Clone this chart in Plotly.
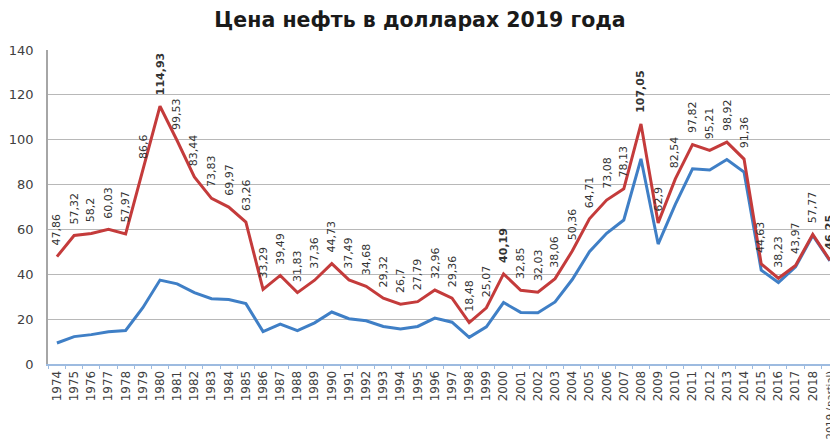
import plotly.graph_objects as go

years = [str(y) for y in range(1974, 2019)] + ["2019 (partial)"]
real_2019 = [47.86, 57.32, 58.2, 60.03, 57.97, 86.6, 114.93, 99.53, 83.44, 73.83,
             69.97, 63.26, 33.29, 39.49, 31.83, 37.36, 44.73, 37.49, 34.68, 29.32,
             26.7, 27.79, 32.96, 29.36, 18.48, 25.07, 40.19, 32.85, 32.03, 38.06,
             50.36, 64.71, 73.08, 78.13, 107.05, 62.9, 82.54, 97.82, 95.21, 98.92,
             91.36, 44.63, 38.23, 43.97, 57.77, 46.25]
nominal = [9.35, 12.21, 13.10, 14.40, 14.95, 25.10, 37.42, 35.75, 31.83, 29.08,
           28.75, 26.92, 14.44, 17.75, 14.87, 18.33, 23.19, 20.20, 19.25, 16.75,
           15.66, 16.75, 20.46, 18.64, 11.91, 16.56, 27.39, 23.00, 22.81, 27.69,
           37.66, 50.04, 58.30, 64.20, 91.48, 53.48, 71.21, 87.04, 86.46, 91.17,
           85.60, 41.85, 36.34, 43.3, 57.3, 46.0]
bold_years = ["1980", "2000", "2008", "2019 (partial)"]
y_ticks = [0, 20, 40, 60, 80, 100, 120, 140]
title = "Цена нефть в долларах 2019 года"

RED = "#c43b3b"
BLUE = "#3f7fc6"

fig = go.Figure()
fig.add_trace(go.Scatter(x=years, y=nominal, mode="lines",
                         line=dict(color=BLUE, width=3), hoverinfo="skip"))
fig.add_trace(go.Scatter(x=years, y=real_2019, mode="lines",
                         line=dict(color=RED, width=3), hoverinfo="skip"))

for i, (yr, v) in enumerate(zip(years, real_2019)):
    txt = (f"{v:g}").replace(".", ",")
    if yr in bold_years:
        txt = f"<b>{txt}</b>"
    fig.add_annotation(x=i, y=v, xref="x", yref="y", text=txt,
                       showarrow=False, textangle=-90,
                       xanchor="center", yanchor="bottom", yshift=9,
                       font=dict(family="DejaVu Sans", size=11, color="#333333"))

# long last label drawn a little smaller so it fits in the window
tick_text = years[:-1] + [f'<span style="font-size:10px">{years[-1]}</span>']

fig.update_layout(
    width=830, height=437,
    margin=dict(l=40, r=0, t=42, b=81, autoexpand=False),
    paper_bgcolor="white", plot_bgcolor="white",
    showlegend=False,
    title=dict(text=f"<b>{title}</b>", x=0.4964, xanchor="center", xref="container",
               y=0.9725, yanchor="middle", yref="container",
               font=dict(family="DejaVu Sans", size=20.5, color="#1a1a1a")),
    xaxis=dict(type="category", range=[-0.52, 45.47], autorange=False,
               automargin=False, tickmode="array", tickvals=years, ticktext=tick_text,
               tickangle=-90, showline=True, linecolor="#9dbbe0", linewidth=2,
               ticks="outside", tickson="boundaries", ticklen=3, tickcolor="#9dbbe0",
               showgrid=False,
               tickfont=dict(family="DejaVu Sans", size=12, color="#404040")),
    yaxis=dict(range=[0, 140], autorange=False, automargin=False,
               tickvals=y_ticks, showgrid=True, gridcolor="#b8b8b8",
               gridwidth=1.3, showline=True, linecolor="#a6a6a6", linewidth=1.5,
               zeroline=False, ticks="outside", ticklen=10, tickcolor="rgba(0,0,0,0)",
               tickfont=dict(family="DejaVu Sans", size=13, color="#404040")),
)

fig.write_html("out.html")
